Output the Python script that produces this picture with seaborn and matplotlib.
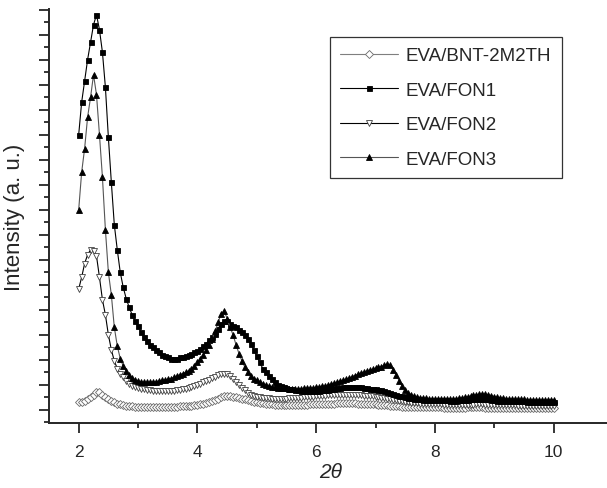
import numpy as np
import matplotlib
matplotlib.use('Agg')
import matplotlib.pyplot as plt
from matplotlib.ticker import MultipleLocator, NullFormatter
import seaborn as sns

# 2-theta grid, step 0.05
two_theta = np.linspace(2.0, 10.0, 161)

# intensities (a.u.)
bnt_2m2th = [
    0.31, 0.33, 0.36, 0.42, 0.5, 0.6, 0.7, 0.72, 0.6, 0.5,
    0.42, 0.35, 0.3, 0.25, 0.22, 0.19, 0.17, 0.15, 0.14, 0.13,
    0.12, 0.12, 0.11, 0.11, 0.11, 0.11, 0.11, 0.11, 0.12, 0.12,
    0.12, 0.12, 0.13, 0.13, 0.14, 0.14, 0.15, 0.16, 0.17, 0.18,
    0.2, 0.22, 0.25, 0.28, 0.32, 0.36, 0.4, 0.45, 0.5, 0.54,
    0.55, 0.55, 0.53, 0.5, 0.48, 0.45, 0.42, 0.38, 0.35, 0.32,
    0.3, 0.28, 0.26, 0.24, 0.23, 0.22, 0.21, 0.2, 0.2, 0.19,
    0.19, 0.19, 0.19, 0.2, 0.2, 0.2, 0.21, 0.21, 0.22, 0.22,
    0.22, 0.23, 0.23, 0.24, 0.24, 0.25, 0.25, 0.26, 0.26, 0.26,
    0.26, 0.26, 0.26, 0.26, 0.25, 0.25, 0.24, 0.24, 0.23, 0.22,
    0.22, 0.21, 0.2, 0.19, 0.18, 0.17, 0.16, 0.15, 0.14, 0.13,
    0.12, 0.12, 0.11, 0.11, 0.1, 0.1, 0.1, 0.1, 0.1, 0.1,
    0.1, 0.1, 0.1, 0.09, 0.09, 0.09, 0.09, 0.09, 0.09, 0.09,
    0.09, 0.1, 0.1, 0.1, 0.1, 0.1, 0.1, 0.09, 0.09, 0.09,
    0.09, 0.08, 0.08, 0.08, 0.08, 0.08, 0.08, 0.08, 0.08, 0.08,
    0.08, 0.08, 0.08, 0.07, 0.07, 0.07, 0.07, 0.07, 0.07, 0.07,
    0.07,
]

fon1 = [
    11.0, 12.3, 13.15, 14.0, 14.7, 15.4, 15.8, 15.2, 14.3, 12.9,
    10.9, 9.1, 7.4, 6.4, 5.5, 4.9, 4.45, 4.1, 3.8, 3.55,
    3.35, 3.1, 2.9, 2.75, 2.6, 2.5, 2.4, 2.3, 2.2, 2.15,
    2.1, 2.05, 2.05, 2.05, 2.1, 2.1, 2.15, 2.2, 2.25, 2.3,
    2.35, 2.45, 2.55, 2.65, 2.8, 2.9, 3.05, 3.25, 3.45, 3.55,
    3.55, 3.45, 3.35, 3.3, 3.2, 3.1, 3.0, 2.85, 2.65, 2.4,
    2.15, 1.9, 1.65, 1.5, 1.35, 1.25, 1.1, 1.0, 0.95, 0.9,
    0.87, 0.85, 0.82, 0.8, 0.78, 0.77, 0.76, 0.76, 0.75, 0.76,
    0.76, 0.77, 0.78, 0.78, 0.8, 0.82, 0.85, 0.87, 0.88, 0.9,
    0.92, 0.93, 0.93, 0.92, 0.92, 0.9, 0.88, 0.86, 0.85, 0.84,
    0.82, 0.8, 0.78, 0.75, 0.72, 0.68, 0.64, 0.6, 0.57, 0.54,
    0.5, 0.48, 0.46, 0.44, 0.43, 0.42, 0.41, 0.4, 0.4, 0.4,
    0.39, 0.39, 0.38, 0.38, 0.38, 0.37, 0.37, 0.37, 0.38, 0.38,
    0.39, 0.4, 0.42, 0.43, 0.44, 0.45, 0.45, 0.44, 0.42, 0.4,
    0.38, 0.37, 0.36, 0.36, 0.35, 0.35, 0.35, 0.34, 0.34, 0.34,
    0.34, 0.33, 0.33, 0.33, 0.33, 0.33, 0.33, 0.32, 0.32, 0.32,
    0.32,
]

fon2 = [
    4.83, 5.3, 5.85, 6.2, 6.4, 6.35, 6.15, 5.3, 4.4, 3.8,
    3.0, 2.4, 1.95, 1.65, 1.45, 1.3, 1.15, 1.05, 0.95, 0.9,
    0.86, 0.84, 0.82, 0.8, 0.78, 0.77, 0.76, 0.75, 0.75, 0.75,
    0.75, 0.76, 0.77, 0.78, 0.8, 0.82, 0.85, 0.88, 0.92, 0.96,
    1.0, 1.05, 1.1, 1.15, 1.2, 1.26, 1.32, 1.38, 1.43, 1.45,
    1.42, 1.35, 1.25, 1.12, 1.0, 0.88, 0.78, 0.68, 0.6, 0.55,
    0.52, 0.5, 0.48, 0.47, 0.46, 0.45, 0.45, 0.45, 0.45, 0.45,
    0.45, 0.46, 0.46, 0.47, 0.48, 0.49, 0.5, 0.51, 0.52, 0.53,
    0.54, 0.55, 0.56, 0.57, 0.58, 0.59, 0.6, 0.6, 0.61, 0.61,
    0.61, 0.61, 0.6, 0.6, 0.59, 0.58, 0.57, 0.56, 0.55, 0.54,
    0.52, 0.5, 0.48, 0.46, 0.44, 0.42, 0.4, 0.38, 0.36, 0.34,
    0.32, 0.3, 0.28, 0.27, 0.26, 0.25, 0.24, 0.24, 0.23, 0.23,
    0.22, 0.22, 0.22, 0.21, 0.21, 0.21, 0.21, 0.2, 0.2, 0.2,
    0.2, 0.2, 0.21, 0.21, 0.22, 0.22, 0.22, 0.21, 0.21, 0.2,
    0.2, 0.19, 0.19, 0.19, 0.18, 0.18, 0.18, 0.18, 0.17, 0.17,
    0.17, 0.17, 0.16, 0.16, 0.16, 0.16, 0.15, 0.15, 0.15, 0.15,
    0.15,
]

fon3 = [
    8.0, 9.5, 10.45, 11.7, 12.5, 13.4, 12.6, 11.0, 9.3, 7.2,
    5.5, 4.6, 3.3, 2.55, 2.05, 1.75, 1.55, 1.4, 1.28, 1.2,
    1.15, 1.12, 1.1, 1.1, 1.1, 1.12, 1.12, 1.15, 1.18, 1.2,
    1.22, 1.25, 1.3, 1.35, 1.4, 1.45, 1.5, 1.55, 1.62, 1.75,
    1.9, 2.05, 2.2, 2.4, 2.6, 2.85, 3.15, 3.5, 3.85, 3.95,
    3.65, 3.3, 3.0, 2.6, 2.25, 1.95, 1.7, 1.5, 1.35, 1.25,
    1.2, 1.12, 1.05, 1.0, 0.95, 0.92, 0.9, 0.88, 0.87, 0.87,
    0.86, 0.85, 0.85, 0.85, 0.85, 0.85, 0.86, 0.86, 0.87, 0.88,
    0.9, 0.92, 0.94, 0.96, 0.99, 1.02, 1.06, 1.1, 1.14, 1.18,
    1.22, 1.27, 1.32, 1.37, 1.42, 1.47, 1.5, 1.55, 1.58, 1.62,
    1.66, 1.7, 1.73, 1.78, 1.82, 1.78, 1.6, 1.4, 1.15, 0.95,
    0.8, 0.68, 0.6, 0.55, 0.52, 0.49, 0.47, 0.46, 0.45, 0.45,
    0.44, 0.44, 0.43, 0.43, 0.43, 0.43, 0.44, 0.45, 0.46, 0.48,
    0.5, 0.52, 0.55, 0.58, 0.6, 0.62, 0.63, 0.62, 0.6, 0.57,
    0.53, 0.5, 0.48, 0.46, 0.45, 0.44, 0.43, 0.43, 0.42, 0.42,
    0.42, 0.41, 0.41, 0.41, 0.4, 0.4, 0.4, 0.4, 0.4, 0.4,
    0.4,
]

labels = ['EVA/BNT-2M2TH', 'EVA/FON1', 'EVA/FON2', 'EVA/FON3']

sns.set_style('ticks')
plt.rcParams['font.family'] = ['Liberation Sans', 'DejaVu Sans']

fig = plt.figure(figsize=(6.07, 4.89), dpi=100)
ax = fig.add_axes([49 / 607, 65 / 489, 564 / 607, 414 / 489])

# (data, line colour, marker, face, edge, size, zorder)
styles = [
    (bnt_2m2th, '#7f7f7f', 'D', 'white', '#6a6a6a', 4.0, 2),
    (fon1, 'black', 's', 'black', 'black', 3.6, 4),
    (fon2, 'black', 'v', 'white', '#404040', 4.6, 3),
    (fon3, '#555555', '^', 'black', 'black', 4.6, 5),
]

for (vals, lc, mk, mfc, mec, ms, z), lab in zip(styles, labels):
    sns.lineplot(x=two_theta, y=vals, ax=ax, color=lc, lw=0.8,
                 marker=mk, markersize=ms, markerfacecolor=mfc,
                 markeredgecolor=mec, markeredgewidth=0.6,
                 label=lab, zorder=z, sort=False)

ax.set_xlim(1.5, 11.0)
ax.set_ylim(-0.53, 16.03)
ax.xaxis.set_major_locator(MultipleLocator(2))
ax.xaxis.set_minor_locator(MultipleLocator(1))
ax.yaxis.set_major_locator(MultipleLocator(1))
ax.yaxis.set_minor_locator(MultipleLocator(0.5))
ax.yaxis.set_major_formatter(NullFormatter())

sns.despine(ax=ax)
for s in ['left', 'bottom']:
    ax.spines[s].set_linewidth(1.4)
ax.tick_params(which='major', direction='out', length=7, width=1.3, labelsize=12.5, pad=8)
ax.tick_params(which='minor', direction='out', length=3.5, width=1.3)

ax.set_xlabel('2θ', fontsize=15, style='italic', labelpad=2)
ax.set_ylabel('Intensity (a. u.)', fontsize=16, labelpad=2)

leg = ax.legend(loc='upper left', bbox_to_anchor=(330 / 607, 1 - 38 / 489),
                bbox_transform=fig.transFigure, borderaxespad=0,
                fontsize=13.5, frameon=True, fancybox=False,
                handlelength=3.1, handletextpad=0.4, labelspacing=0.92,
                borderpad=0.55)
leg.get_frame().set_edgecolor('black')
leg.get_frame().set_linewidth(0.9)

fig.savefig('out.png', dpi=100)
